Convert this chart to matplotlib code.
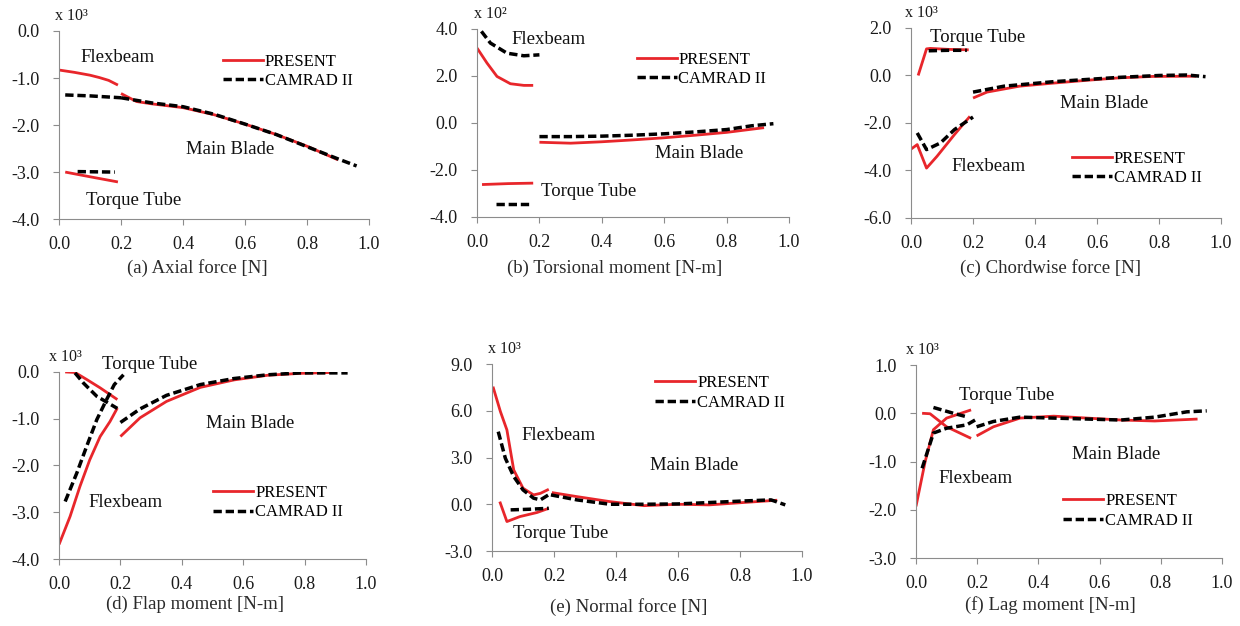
import numpy as np
import matplotlib
matplotlib.use("Agg")
import matplotlib.pyplot as plt

plt.rcParams['font.family'] = ['Liberation Serif', 'DejaVu Serif']

# ---------------- data (x = r/R, y = load x 10^n) ----------------
# (a) axial force
axial_flex_present = [(0.0, -0.83), (0.05, -0.88), (0.1, -0.94), (0.13, -0.99), (0.16, -1.05), (0.19, -1.15)]
axial_flex_camrad = [(0.02, -1.36), (0.1, -1.38), (0.2, -1.42)]
axial_main_present = [(0.2, -1.33), (0.25, -1.5), (0.3, -1.55), (0.4, -1.63), (0.5, -1.78), (0.6, -1.98),
                      (0.7, -2.2), (0.8, -2.45), (0.9, -2.74)]
axial_main_camrad = [(0.2, -1.42), (0.3, -1.53), (0.4, -1.61), (0.5, -1.77), (0.6, -1.98), (0.7, -2.2),
                     (0.8, -2.46), (0.9, -2.72), (0.96, -2.87)]
axial_tube_present = [(0.02, -3.0), (0.1, -3.1), (0.19, -3.21)]
axial_tube_camrad = [(0.06, -2.99), (0.18, -3.0)]

# (b) torsional moment
tors_flex_present = [(0.0, 3.19), (0.032, 2.55), (0.064, 1.98), (0.107, 1.67), (0.15, 1.6), (0.18, 1.6)]
tors_flex_camrad = [(0.014, 3.9), (0.043, 3.4), (0.096, 2.97), (0.15, 2.86), (0.2, 2.9)]
tors_main_present = [(0.2, -0.82), (0.3, -0.86), (0.4, -0.8), (0.5, -0.72), (0.6, -0.63), (0.7, -0.52),
                     (0.8, -0.4), (0.92, -0.2)]
tors_main_camrad = [(0.2, -0.58), (0.3, -0.58), (0.4, -0.56), (0.5, -0.52), (0.6, -0.46), (0.7, -0.38),
                    (0.8, -0.28), (0.88, -0.12), (0.95, -0.03)]
tors_tube_present = [(0.016, -2.62), (0.1, -2.58), (0.18, -2.56)]
tors_tube_camrad = [(0.06, -3.46), (0.17, -3.46)]

# (c) chordwise force
chord_tube_present = [(0.023, 0.0), (0.05, 1.12), (0.062, 1.14), (0.12, 1.1), (0.186, 1.08)]
chord_tube_camrad = [(0.057, 1.04), (0.12, 1.06), (0.18, 1.06)]
chord_flex_present = [(0.0, -3.1), (0.02, -2.91), (0.05, -3.9), (0.084, -3.4), (0.14, -2.49), (0.19, -1.72)]
chord_flex_camrad = [(0.02, -2.42), (0.05, -3.12), (0.095, -2.84), (0.14, -2.28), (0.2, -1.75)]
chord_main_present = [(0.2, -0.95), (0.245, -0.7), (0.35, -0.45), (0.46, -0.32), (0.57, -0.2), (0.67, -0.1),
                      (0.78, -0.04), (0.92, -0.03)]
chord_main_camrad = [(0.2, -0.7), (0.3, -0.45), (0.46, -0.26), (0.67, -0.08), (0.8, 0.0), (0.89, 0.02),
                     (0.95, -0.05)]

# (d) flap moment
flap_tube_present = [(0.02, 0.0), (0.052, -0.01), (0.09, -0.16), (0.134, -0.34), (0.19, -0.59)]
flap_tube_camrad = [(0.052, -0.02), (0.08, -0.24), (0.123, -0.52), (0.19, -0.78)]
flap_flex_present = [(0.0, -3.69), (0.036, -3.09), (0.068, -2.45), (0.1, -1.88), (0.134, -1.38),
                     (0.166, -1.06), (0.19, -0.77)]
flap_flex_camrad = [(0.02, -2.77), (0.058, -2.16), (0.09, -1.59), (0.123, -1.02), (0.155, -0.59),
                    (0.18, -0.27), (0.21, -0.06)]
flap_main_present = [(0.2, -1.38), (0.264, -0.98), (0.35, -0.63), (0.46, -0.33), (0.57, -0.17),
                     (0.68, -0.07), (0.785, -0.03), (0.89, -0.01)]
flap_main_camrad = [(0.2, -1.08), (0.264, -0.79), (0.35, -0.5), (0.46, -0.27), (0.57, -0.14),
                    (0.68, -0.06), (0.785, -0.02), (0.94, -0.02)]

# (e) normal force
norm_flex_present = [(0.003, 7.55), (0.027, 5.95), (0.048, 4.77), (0.07, 2.2), (0.1, 1.03), (0.134, 0.6),
                     (0.156, 0.7), (0.183, 0.96)]
norm_flex_camrad = [(0.02, 4.66), (0.043, 2.95), (0.07, 1.78), (0.1, 0.92), (0.134, 0.39), (0.156, 0.28),
                    (0.19, 0.7)]
norm_main_present = [(0.193, 0.75), (0.274, 0.49), (0.38, 0.17), (0.49, -0.09), (0.6, 0.0), (0.7, -0.04),
                     (0.81, 0.11), (0.92, 0.26)]
norm_main_camrad = [(0.19, 0.6), (0.274, 0.28), (0.38, 0.0), (0.49, 0.0), (0.6, 0.02), (0.7, 0.11),
                    (0.81, 0.21), (0.9, 0.28), (0.946, -0.04)]
norm_tube_present = [(0.025, 0.17), (0.048, -1.11), (0.09, -0.79), (0.145, -0.53), (0.183, -0.26)]
norm_tube_camrad = [(0.06, -0.36), (0.12, -0.32), (0.183, -0.26)]

# (f) lag moment
lag_flex_present = [(0.0, -1.93), (0.03, -1.0), (0.057, -0.34), (0.1, -0.1), (0.18, 0.07)]
lag_flex_camrad = [(0.02, -1.14), (0.057, -0.41), (0.1, -0.31), (0.166, -0.24), (0.193, -0.14)]
lag_tube_present = [(0.02, 0.0), (0.046, -0.01), (0.1, -0.28), (0.18, -0.52)]
lag_tube_camrad = [(0.057, 0.12), (0.122, 0.0), (0.17, -0.08)]
lag_main_present = [(0.198, -0.47), (0.253, -0.28), (0.34, -0.1), (0.45, -0.06), (0.56, -0.1), (0.67, -0.14),
                    (0.78, -0.16), (0.92, -0.12)]
lag_main_camrad = [(0.198, -0.28), (0.253, -0.17), (0.34, -0.08), (0.45, -0.1), (0.56, -0.12), (0.67, -0.14),
                   (0.78, -0.08), (0.885, 0.03), (0.95, 0.05)]

RED = '#e8262b'
GREY = '#8c8c8c'
DASH = (0, (2.4, 1.1))


def draw(ax, present, camrad):
    for s in present:
        xs, ys = zip(*s)
        ax.plot(xs, ys, color=RED, lw=2.0, solid_capstyle='butt')
    for s in camrad:
        xs, ys = zip(*s)
        ax.plot(xs, ys, color='black', lw=2.5, linestyle=DASH)


def style(ax, ylim, step, mult, off):
    ax.set_xlim(0, 1.0)
    ax.set_ylim(*ylim)
    ax.set_xticks(np.arange(0, 1.01, 0.2))
    ax.set_yticks(np.arange(ylim[0], ylim[1] + 0.01, step))
    ax.xaxis.set_major_formatter(plt.FormatStrFormatter('%.1f'))
    ax.yaxis.set_major_formatter(plt.FormatStrFormatter('%.1f'))
    for sp in ['top', 'right']:
        ax.spines[sp].set_visible(False)
    for sp in ['left', 'bottom']:
        ax.spines[sp].set_color(GREY)
    ax.tick_params(colors=GREY, labelcolor='#1a1a1a', labelsize=13, length=4, direction='out')
    ax.tick_params(axis='x', pad=8)
    ax.tick_params(axis='y', pad=10)
    ax.annotate(mult, xy=(0, 1), xycoords='axes fraction', xytext=(off, 11),
                textcoords='offset points', ha='left', va='center', fontsize=11.5, color='#1a1a1a')


def legend(ax, x, y):
    h1, = ax.plot([], [], color=RED, lw=2.0)
    h2, = ax.plot([], [], color='black', lw=2.5, linestyle=DASH)
    ax.legend([h1, h2], ['PRESENT', 'CAMRAD II'], loc='upper left', bbox_to_anchor=(x, y),
              frameon=False, borderpad=0, borderaxespad=0, handlelength=2.4, handletextpad=0.1,
              labelspacing=0.2, fontsize=12)


fig = plt.figure(figsize=(12.4, 6.26), dpi=100)
ax_a = fig.add_axes([0.0476, 0.650, 0.250, 0.3005])
ax_b = fig.add_axes([0.3847, 0.6534, 0.2516, 0.3003])
ax_c = fig.add_axes([0.7347, 0.6518, 0.250, 0.3035])
ax_d = fig.add_axes([0.0476, 0.107, 0.2476, 0.2988])
ax_e = fig.add_axes([0.3968, 0.1198, 0.250, 0.2987])
ax_f = fig.add_axes([0.7387, 0.1086, 0.2468, 0.3083])

lab = dict(fontsize=13.5, ha='left', va='center', color='#111111')

# (a)
draw(ax_a, [axial_flex_present, axial_main_present, axial_tube_present],
     [axial_flex_camrad, axial_main_camrad, axial_tube_camrad])
style(ax_a, (-4.0, 0.0), 1.0, 'x 10³', -3)
ax_a.text(0.068, -0.57, 'Flexbeam', **lab)
ax_a.text(0.41, -2.53, 'Main Blade', **lab)
ax_a.text(0.087, -3.6, 'Torque Tube', **lab)
legend(ax_a, 0.53, 0.88)

# (b)
draw(ax_b, [tors_flex_present, tors_main_present, tors_tube_present],
     [tors_flex_camrad, tors_main_camrad, tors_tube_camrad])
style(ax_b, (-4.0, 4.0), 2.0, 'x 10²', -2)
ax_b.text(0.11, 3.57, 'Flexbeam', **lab)
ax_b.text(0.57, -1.32, 'Main Blade', **lab)
ax_b.text(0.205, -2.93, 'Torque Tube', **lab)
legend(ax_b, 0.512, 0.88)

# (c)
draw(ax_c, [chord_tube_present, chord_flex_present, chord_main_present],
     [chord_tube_camrad, chord_flex_camrad, chord_main_camrad])
style(ax_c, (-6.0, 2.0), 2.0, 'x 10³', -4)
ax_c.text(0.062, 1.58, 'Torque Tube', **lab)
ax_c.text(0.48, -1.2, 'Main Blade', **lab)
ax_c.text(0.13, -3.82, 'Flexbeam', **lab)
legend(ax_c, 0.519, 0.355)

# (d)
draw(ax_d, [flap_tube_present, flap_flex_present, flap_main_present],
     [flap_tube_camrad, flap_flex_camrad, flap_main_camrad])
style(ax_d, (-4.0, 0.0), 1.0, 'x 10³', -7)
ax_d.text(0.14, 0.17, 'Torque Tube', **lab)
ax_d.text(0.48, -1.11, 'Main Blade', **lab)
ax_d.text(0.096, -2.8, 'Flexbeam', **lab)
legend(ax_d, 0.503, 0.395)

# (e)
draw(ax_e, [norm_flex_present, norm_main_present, norm_tube_present],
     [norm_flex_camrad, norm_main_camrad, norm_tube_camrad])
style(ax_e, (-3.0, 9.0), 3.0, 'x 10³', -3)
ax_e.text(0.095, 4.39, 'Flexbeam', **lab)
ax_e.text(0.51, 2.48, 'Main Blade', **lab)
ax_e.text(0.068, -1.86, 'Torque Tube', **lab)
legend(ax_e, 0.527, 0.94)

# (f)
draw(ax_f, [lag_flex_present, lag_tube_present, lag_main_present],
     [lag_flex_camrad, lag_tube_camrad, lag_main_camrad])
style(ax_f, (-3.0, 1.0), 1.0, 'x 10³', -7)
ax_f.text(0.14, 0.37, 'Torque Tube', **lab)
ax_f.text(0.51, -0.86, 'Main Blade', **lab)
ax_f.text(0.073, -1.36, 'Flexbeam', **lab)
legend(ax_f, 0.482, 0.336)

cap = dict(fontsize=13.5, ha='center', va='center', color='#2a2a2a')
fig.text(0.159, 0.572, '(a) Axial force [N]', **cap)
fig.text(0.496, 0.572, '(b) Torsional moment [N-m]', **cap)
fig.text(0.847, 0.572, '(c) Chordwise force [N]', **cap)
fig.text(0.157, 0.034, '(d) Flap moment [N-m]', **cap)
fig.text(0.507, 0.030, '(e) Normal force [N]', **cap)
fig.text(0.847, 0.034, '(f) Lag moment [N-m]', **cap)

fig.savefig('out.png', dpi=100)
